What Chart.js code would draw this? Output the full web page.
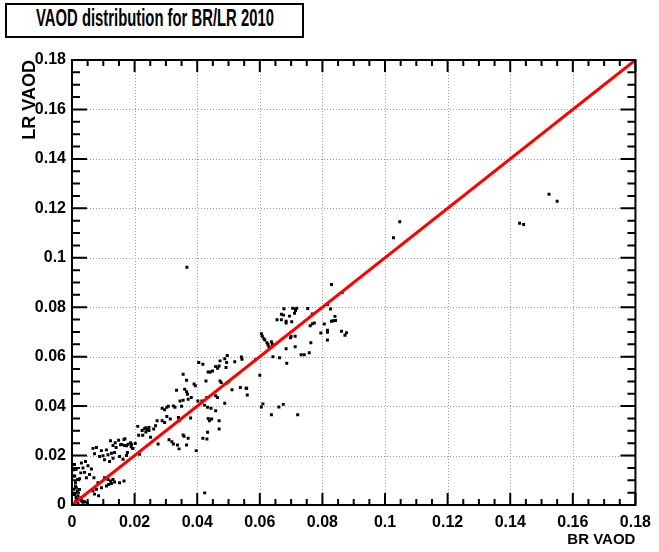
<!DOCTYPE html>
<html lang="en">
<head>
  <meta charset="UTF-8" />
  <title>VAOD distribution for BR/LR 2010</title>
  <script src="https://cdn.jsdelivr.net/npm/chart.js"></script>
  <style>
    body { margin: 0; background: #fff; }
    #wrap { position: relative; width: 659px; height: 552px; }
    #titleBox {
      position: absolute; left: 5px; top: 3px; width: 295px; height: 31px;
      border: 2px solid #000; background: #fff; overflow: hidden; color: #000;
    }
    #titleText {
      position: absolute; left: 29px; top: 0; line-height: 31px; white-space: nowrap;
      font: bold 23px "Liberation Sans", Arial, sans-serif;
      transform-origin: left center;
    }
  </style>
</head>
<body>
<div id="wrap">
  <canvas id="scatter" width="659" height="552"></canvas>
  <div id="titleBox"><span id="titleText">VAOD distribution for BR/LR 2010</span></div>
</div>
<script>
  // axis ticks (both axes share the same range)
  const axisMin = 0, axisMax = 0.18, majorStep = 0.02, minorStep = 0.005;

  // BR VAOD (x) / LR VAOD (y) pairs
  const brVaod = [
    0.0829, 0.0863, 0.0816, 0.0826, 0.0677, 0.0705, 0.0714, 0.0718, 0.0753,
    0.0669, 0.0676, 0.0695, 0.0711, 0.0714, 0.0655, 0.0669, 0.0684, 0.0684, 0.0702,
    0.0768, 0.0840, 0.0834, 0.0829, 0.0842, 0.0806, 0.0761, 0.0768, 0.0774,
    0.0795, 0.0816, 0.0816, 0.0816, 0.0861, 0.0872, 0.0877, 0.0700, 0.0713, 0.0698,
    0.0763, 0.0605, 0.0608, 0.0613, 0.0616, 0.0623, 0.0626, 0.0629, 0.0637, 0.0640, 0.0642,
    0.0684, 0.0713, 0.0758, 0.0742, 0.0732, 0.0642, 0.0663, 0.0686, 0.0587, 0.0600,
    0.0558, 0.0560, 0.0605, 0.0610, 0.0661, 0.0675, 0.0637, 0.0721,
    0.0496, 0.0541, 0.0543, 0.0488, 0.0473, 0.0520, 0.0494, 0.0492, 0.0459, 0.0465, 0.0470,
    0.0449, 0.0442, 0.0435, 0.0405, 0.0418, 0.0355, 0.0428, 0.0473, 0.0477, 0.0494, 0.0501,
    0.0366, 0.0390, 0.0394, 0.0511, 0.0334, 0.0360, 0.0366, 0.0369, 0.0381, 0.0371, 0.0355,
    0.0345, 0.0402, 0.0415, 0.0431, 0.0459, 0.0465, 0.0488, 0.0538, 0.0556, 0.0423,
    0.0433, 0.0444, 0.0459, 0.0446, 0.0435, 0.0439, 0.0470, 0.0470, 0.0433, 0.0418, 0.0431,
    0.0397, 0.0350, 0.0329, 0.0324, 0.0308, 0.0303, 0.0296, 0.0288, 0.0303, 0.0272, 0.0288,
    0.0296, 0.0267, 0.0261, 0.0246, 0.0246, 0.0314, 0.0340, 0.0342, 0.0379, 0.0355, 0.0358,
    0.0371, 0.0310, 0.0319, 0.0324, 0.0337, 0.0342, 0.0275, 0.0366, 0.0251,
    0.0169, 0.0159, 0.0174, 0.0190, 0.0193, 0.0210, 0.0224, 0.0231, 0.0236, 0.0213, 0.0226,
    0.0241, 0.0236, 0.0174, 0.0216,
    0.0123, 0.0138, 0.0149, 0.0155, 0.0168, 0.0179, 0.0187, 0.0166, 0.0131, 0.0141, 0.0189,
    0.0202, 0.0195, 0.0067, 0.0078, 0.0094, 0.0110, 0.0072, 0.0088, 0.0099, 0.0115, 0.0126,
    0.0136, 0.0104, 0.0120, 0.0131, 0.0152, 0.0163, 0.0177, 0.0030, 0.0043, 0.0051, 0.0035,
    0.0062, 0.0028, 0.0040, 0.0056, 0.0046, 0.0070, 0.0083, 0.0024, 0.0104, 0.0115, 0.0123,
    0.0126, 0.0117, 0.0131, 0.0136, 0.0152, 0.0166, 0.0110, 0.0094, 0.0078, 0.0067, 0.0072,
    0.0085, 0.0006, 0.0009, 0.0011, 0.0014, 0.0006, 0.0017, 0.0009, 0.0013, 0.0019, 0.0024,
    0.0030, 0.0011, 0.0019, 0.0035, 0.0040, 0.0049, 0.0008, 0.0013, 0.0005, 0.0018, 0.0011,
    0.0024, 0.0008, 0.0015, 0.0029, 0.0034,
    0.0424, 0.0367, 0.1027, 0.1047, 0.1430, 0.1443, 0.1524, 0.1550
  ];
  const lrVaod = [
    0.0892, 0.0859, 0.0811, 0.0793, 0.0794, 0.0796, 0.0792, 0.0796, 0.0795,
    0.0772, 0.0768, 0.0764, 0.0776, 0.0787, 0.0749, 0.0749, 0.0743, 0.0736, 0.0741,
    0.0773, 0.0763, 0.0745, 0.0743, 0.0746, 0.0732, 0.0725, 0.0733, 0.0736,
    0.0696, 0.0707, 0.0699, 0.0667, 0.0703, 0.0687, 0.0697, 0.0683, 0.0683, 0.0676,
    0.0656, 0.0693, 0.0683, 0.0673, 0.0667, 0.0656, 0.0649, 0.0640, 0.0660, 0.0650, 0.0645,
    0.0632, 0.0640, 0.0616, 0.0608, 0.0608, 0.0600, 0.0596, 0.0573, 0.0589, 0.0525,
    0.0472, 0.0445, 0.0396, 0.0409, 0.0396, 0.0407, 0.0365, 0.0365,
    0.0605, 0.0599, 0.0589, 0.0592, 0.0583, 0.0579, 0.0576, 0.0556, 0.0560, 0.0553, 0.0562,
    0.0542, 0.0538, 0.0538, 0.0576, 0.0569, 0.0529, 0.0502, 0.0502, 0.0495, 0.0493, 0.0498,
    0.0505, 0.0489, 0.0482, 0.0466, 0.0464, 0.0468, 0.0458, 0.0448, 0.0435, 0.0428, 0.0424,
    0.0421, 0.0421, 0.0421, 0.0435, 0.0442, 0.0435, 0.0412, 0.0475, 0.0472, 0.0404,
    0.0395, 0.0391, 0.0381, 0.0348, 0.0350, 0.0341, 0.0341, 0.0307, 0.0294, 0.0270, 0.0267,
    0.0220, 0.0399, 0.0395, 0.0401, 0.0399, 0.0395, 0.0385, 0.0391, 0.0358, 0.0341, 0.0341,
    0.0334, 0.0321, 0.0307, 0.0314, 0.0301, 0.0348, 0.0354, 0.0341, 0.0352, 0.0283, 0.0278,
    0.0270, 0.0264, 0.0256, 0.0247, 0.0243, 0.0227, 0.0247, 0.0243, 0.0274,
    0.0268, 0.0245, 0.0240, 0.0245, 0.0229, 0.0318, 0.0301, 0.0308, 0.0295, 0.0282, 0.0282,
    0.0305, 0.0313, 0.0200, 0.0205,
    0.0260, 0.0252, 0.0262, 0.0244, 0.0241, 0.0246, 0.0252, 0.0265, 0.0241, 0.0233, 0.0236,
    0.0249, 0.0229, 0.0229, 0.0233, 0.0220, 0.0223, 0.0207, 0.0196, 0.0199, 0.0203, 0.0209,
    0.0212, 0.0183, 0.0176, 0.0189, 0.0196, 0.0185, 0.0212, 0.0170, 0.0176, 0.0159, 0.0150,
    0.0146, 0.0130, 0.0132, 0.0123, 0.0110, 0.0110, 0.0090, 0.0106, 0.0110, 0.0103, 0.0097,
    0.0087, 0.0083, 0.0103, 0.0093, 0.0090, 0.0097, 0.0077, 0.0070, 0.0064, 0.0057, 0.0044,
    0.0037, 0.0143, 0.0117, 0.0090, 0.0070, 0.0064, 0.0057, 0.0044, 0.0030, 0.0037, 0.0024,
    0.0017, 0.0013, 0.0008, 0.0011, 0.0013, 0.0008, 0.0164, 0.0144, 0.0117, 0.0103, 0.0076,
    0.0063, 0.0042, 0.0022, 0.0029, 0.0015,
    0.0049, 0.0962, 0.1081, 0.1146, 0.1140, 0.1135, 0.1257, 0.1229
  ];

  // y = x reference line ends
  const fitX = [0, 0.18];
  const fitY = [0, 0.18];

  const points = brVaod.map((x, i) => ({ x: x, y: lrVaod[i] }));
  const fitLine = fitX.map((x, i) => ({ x: x, y: fitY[i] }));

  const tickFont = { family: '"Liberation Sans", Arial, sans-serif', size: 16, weight: 'bold' };
  const xTitleFont = { family: '"Liberation Sans", Arial, sans-serif', size: 15, weight: 'bold' };
  const yTitleFont = { family: '"Liberation Sans", Arial, sans-serif', size: 18, weight: 'bold' };

  // squeeze the header text to the narrow width of the original
  const tt = document.getElementById('titleText');
  tt.style.transform = 'scaleX(' + (238 / tt.offsetWidth).toFixed(3) + ')';

  // ROOT style frame: dotted grid, frame box, inward ticks on all 4 sides
  const rootFrame = {
    id: 'rootFrame',
    beforeDatasetsDraw(chart) {
      const { ctx, chartArea: a, scales: { x, y } } = chart;
      ctx.save();
      ctx.strokeStyle = '#999';
      ctx.lineWidth = 1;
      ctx.setLineDash([1, 2]);
      for (let v = majorStep; v < axisMax - 1e-9; v += majorStep) {
        const px = Math.round(x.getPixelForValue(v)) + 0.5;
        const py = Math.round(y.getPixelForValue(v)) + 0.5;
        ctx.beginPath(); ctx.moveTo(px, a.top); ctx.lineTo(px, a.bottom); ctx.stroke();
        ctx.beginPath(); ctx.moveTo(a.left, py); ctx.lineTo(a.right, py); ctx.stroke();
      }
      ctx.restore();
    },
    afterDatasetsDraw(chart) {
      const { ctx, chartArea: a, scales: { x, y } } = chart;
      ctx.save();
      ctx.strokeStyle = '#000';
      ctx.lineWidth = 2;
      ctx.strokeRect(a.left, a.top, a.right - a.left, a.bottom - a.top);
      const n = Math.round((axisMax - axisMin) / minorStep);
      for (let i = 0; i <= n; i++) {
        const v = axisMin + i * minorStep;
        const major = i % 4 === 0;
        const lx = major ? 12 : 6;
        const ly = major ? 15 : 8;
        const px = x.getPixelForValue(v);
        const py = y.getPixelForValue(v);
        ctx.beginPath();
        ctx.moveTo(px, a.bottom); ctx.lineTo(px, a.bottom - lx);
        ctx.moveTo(px, a.top); ctx.lineTo(px, a.top + lx);
        ctx.moveTo(a.left, py); ctx.lineTo(a.left + ly, py);
        ctx.moveTo(a.right, py); ctx.lineTo(a.right - ly, py);
        ctx.stroke();
      }
      ctx.restore();
    }
  };

  const fmt = v => String(+v.toFixed(2));

  new Chart(document.getElementById('scatter'), {
    type: 'scatter',
    data: {
      datasets: [
        {
          type: 'line',
          label: 'LR = BR',
          data: fitLine,
          borderColor: '#ff0000',
          borderWidth: 3,
          pointRadius: 0,
          fill: false
        },
        {
          label: 'VAOD',
          data: points,
          pointStyle: 'rect',
          pointRadius: 2.1,
          pointBorderWidth: 0,
          backgroundColor: '#000',
          borderColor: '#000'
        }
      ]
    },
    options: {
      responsive: false,
      animation: false,
      layout: { padding: { top: 60, right: 18, left: 0, bottom: 0 } },
      plugins: { legend: { display: false }, tooltip: { enabled: false } },
      scales: {
        x: {
          type: 'linear', min: axisMin, max: axisMax,
          afterFit(s) { s.height = 47; },
          grid: { display: false, drawTicks: false },
          border: { display: false },
          ticks: { stepSize: majorStep, padding: 8, color: '#000', font: tickFont, callback: fmt, maxRotation: 0 },
          title: { display: true, text: 'BR VAOD', align: 'end', color: '#000', font: xTitleFont, padding: { top: 0, bottom: 3 } }
        },
        y: {
          type: 'linear', min: axisMin, max: axisMax,
          afterFit(s) { s.width = 72; },
          grid: { display: false, drawTicks: false },
          border: { display: false },
          ticks: { stepSize: majorStep, padding: 6, color: '#000', font: tickFont, callback: fmt },
          title: { display: true, text: 'LR VAOD', align: 'end', color: '#000', font: yTitleFont, padding: { top: 19, bottom: 0 } }
        }
      }
    },
    plugins: [rootFrame]
  });
</script>
</body>
</html>
